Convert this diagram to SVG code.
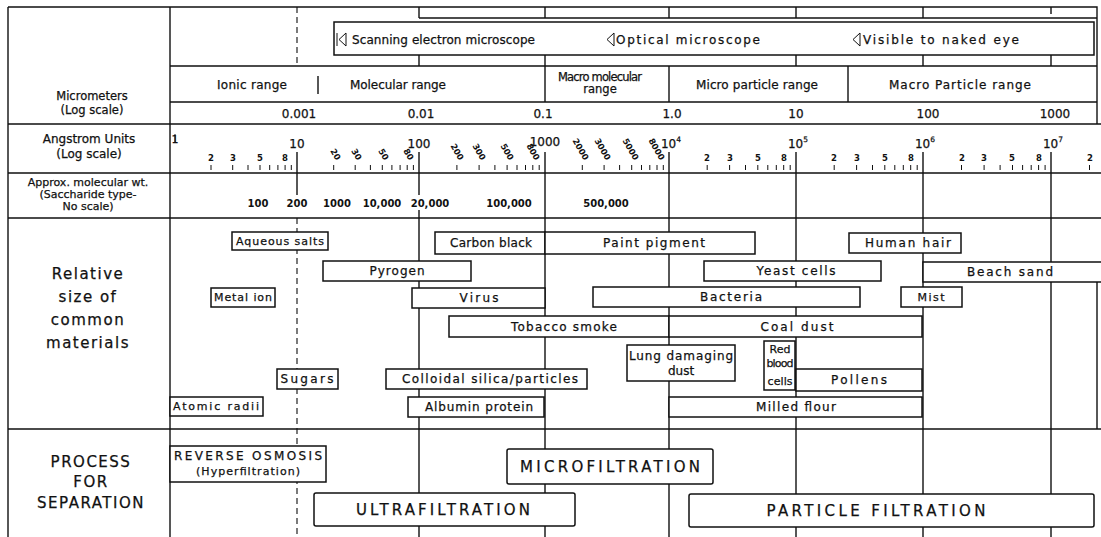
<svg xmlns="http://www.w3.org/2000/svg" width="1101" height="537" viewBox="0 0 1101 537">
<style>
text{font-family:"DejaVu Sans","Liberation Sans",sans-serif;fill:#111;stroke:#111;stroke-width:0.25}
.ln{stroke:#111;stroke-width:1.4;fill:none}
.thin{stroke:#111;stroke-width:1;fill:none}
.dash{stroke:#222;stroke-width:1.2;fill:none;stroke-dasharray:6 4}
.box{fill:#fff;stroke:#111;stroke-width:1.5}
.m{font-size:12px;text-anchor:middle}
.s{font-size:11px;text-anchor:middle}
.h{font-size:11.5px;text-anchor:middle}
.sub{font-size:8.5px;font-weight:bold;text-anchor:middle;stroke-width:0}
.rot{font-size:8.5px;font-weight:bold;text-anchor:end;stroke-width:0}
.big{font-size:15px;text-anchor:middle;letter-spacing:1.5px}
.pr{font-size:15px;text-anchor:middle}
.mw{font-size:10px;text-anchor:middle;font-weight:bold;stroke-width:0}
</style>
<rect x="0" y="0" width="1101" height="537" fill="#fff"/>

<g id="grid">
  <path class="dash" d="M297 7V66M297 218V537"/>
  <path class="ln" d="M297 152V195M419 152V195"/>
  <path class="ln" d="M419 7V18M545 7V18M669 7V18M796 7V18M923 7V18M1051 7V14"/>
  <path class="ln" d="M419 55V66M545 55V66M796 55V66M923 55V66M1051 55V66"/>
  <path class="ln" d="M545 66V102M669 66V102M848 66V102M318 76V94"/>
  <path class="ln" d="M545 152V537M669 152V537M796 152V537M923 152V537M1051 152V537"/>
  <path class="ln" d="M419 210V537M1097 262V429"/>
</g>

<g id="frame">
  <path class="ln" d="M8 7H1097V124M8 7V537M170 7V537"/>
  <path class="ln" d="M419 18H1097"/>
  <path class="ln" d="M170 66H1097M170 102H1097"/>
  <path class="ln" d="M8 124H1101M8 173H1101M8 218H1101M8 429H1101"/>
</g>

<g id="microscope">
  <rect class="box" x="334" y="22" width="760" height="33"/>
  <path class="thin" d="M337 33V46M346 33L339 39.5L346 46Z"/>
  <text x="352" y="44" font-size="12" textLength="183">Scanning electron microscope</text>
  <path class="thin" d="M614 33L607 39.5L614 46Z"/>
  <text x="616" y="44" font-size="12" textLength="144">Optical microscope</text>
  <path class="thin" d="M860 33L853 39.5L860 46Z"/>
  <text x="863" y="44" font-size="12" textLength="156">Visible to naked eye</text>
</g>

<g id="ranges">
  <text class="m" x="252" y="89" textLength="70">Ionic range</text>
  <text class="m" x="398" y="89" textLength="96">Molecular range</text>
  <text class="h" x="600" y="81" textLength="84">Macro molecular</text>
  <text class="h" x="600" y="93">range</text>
  <text class="m" x="757" y="89" textLength="122">Micro particle range</text>
  <text class="m" x="960" y="89" textLength="142">Macro Particle range</text>
</g>

<g id="micrometer-scale">
  <text class="m" x="299" y="118">0.001</text>
  <text class="m" x="421" y="118">0.01</text>
  <text class="m" x="543" y="118">0.1</text>
  <text class="m" x="672" y="118">1.0</text>
  <text class="m" x="796" y="118">10</text>
  <text class="m" x="928" y="118">100</text>
  <text class="m" x="1055" y="118">1000</text>
</g>

<g id="angstrom-scale">
  <text class="s" x="175" y="143" font-size="9">1</text>
  <text class="m" x="297" y="148">10</text>
  <text class="m" x="419" y="148">100</text>
  <text class="m" x="545" y="146">1000</text>
  <text class="m" x="671" y="148">10<tspan dy="-6" font-size="7.5">4</tspan></text>
  <text class="m" x="798" y="148">10<tspan dy="-6" font-size="7.5">5</tspan></text>
  <text class="m" x="925" y="148">10<tspan dy="-6" font-size="7.5">6</tspan></text>
  <text class="m" x="1053" y="148">10<tspan dy="-6" font-size="7.5">7</tspan></text>
  <path class="thin" d="M211 165V170M232.7 165V170M248 165V170M260 165V170M269.7 165V170M277.9 165V170M285.1 165V170M291.3 165V170
  M333.7 165V170M355.2 165V170M370.4 165V170M382.3 165V170M391.9 165V170M400.1 165V170M407.2 165V170M413.4 165V170
  M456.9 165V170M479.1 165V170M494.9 165V170M507.1 165V170M517 165V170M525.5 165V170M532.8 165V170M539.2 165V170
  M582.3 165V170M604.1 165V170M619.6 165V170M631.7 165V170M641.5 165V170M649.8 165V170M657 165V170M663.3 165V170
  M707.2 165V170M729.6 165V170M745.5 165V170M757.8 165V170M767.8 165V170M776.3 165V170M783.7 165V170M790.2 165V170
  M834.2 165V170M856.6 165V170M872.5 165V170M884.8 165V170M894.8 165V170M903.3 165V170M910.7 165V170M917.2 165V170
  M961.5 165V170M984.1 165V170M1000.1 165V170M1012.5 165V170M1022.6 165V170M1031.2 165V170M1038.6 165V170M1045.1 165V170
  M1089.5 165V170M175 134V142"/>
  <text class="sub" x="211" y="161">2</text><text class="sub" x="233" y="161">3</text><text class="sub" x="260" y="161">5</text><text class="sub" x="285" y="161">8</text>
  <text class="sub" x="707" y="161">2</text><text class="sub" x="730" y="161">3</text><text class="sub" x="758" y="161">5</text><text class="sub" x="784" y="161">8</text>
  <text class="sub" x="834" y="161">2</text><text class="sub" x="857" y="161">3</text><text class="sub" x="885" y="161">5</text><text class="sub" x="911" y="161">8</text>
  <text class="sub" x="962" y="161">2</text><text class="sub" x="984" y="161">3</text><text class="sub" x="1012" y="161">5</text><text class="sub" x="1039" y="161">8</text>
  <text class="sub" x="1090" y="161">2</text>
  <text class="rot" transform="translate(336,161) rotate(60)">20</text>
  <text class="rot" transform="translate(357,161) rotate(60)">30</text>
  <text class="rot" transform="translate(384,161) rotate(60)">50</text>
  <text class="rot" transform="translate(409,161) rotate(60)">80</text>
  <text class="rot" transform="translate(459,161) rotate(60)">200</text>
  <text class="rot" transform="translate(481,161) rotate(60)">300</text>
  <text class="rot" transform="translate(509,161) rotate(60)">500</text>
  <text class="rot" transform="translate(535,161) rotate(60)">800</text>
  <text class="rot" transform="translate(584,161) rotate(60)">2000</text>
  <text class="rot" transform="translate(606,161) rotate(60)">3000</text>
  <text class="rot" transform="translate(634,161) rotate(60)">5000</text>
  <text class="rot" transform="translate(660,161) rotate(60)">8000</text>
</g>

<g id="molwt">
  <text class="mw" x="258" y="207">100</text>
  <text class="mw" x="297" y="207">200</text>
  <text class="mw" x="337" y="207">1000</text>
  <text class="mw" x="382" y="207">10,000</text>
  <text class="mw" x="430" y="207">20,000</text>
  <text class="mw" x="509" y="207">100,000</text>
  <text class="mw" x="606" y="207">500,000</text>
</g>

<g id="row-labels">
  <text class="h" x="92" y="100">Micrometers</text>
  <text class="h" x="92" y="114">(Log scale)</text>
  <text class="m" x="89" y="143">Angstrom Units</text>
  <text class="m" x="89" y="158">(Log scale)</text>
  <text class="s" x="88" y="186">Approx. molecular wt.</text>
  <text class="s" x="88" y="198">(Saccharide type-</text>
  <text class="s" x="88" y="210">No scale)</text>
  <text class="big" x="88" y="279">Relative</text>
  <text class="big" x="88" y="302">size of</text>
  <text class="big" x="88" y="325">common</text>
  <text class="big" x="88" y="348">materials</text>
  <text class="big" x="91" y="467">PROCESS</text>
  <text class="big" x="91" y="487">FOR</text>
  <text class="big" x="91" y="508">SEPARATION</text>
</g>

<g id="materials">
  <g id="aqueous-salts"><rect class="box" x="232" y="232" width="96" height="18"/><text class="s" x="280" y="245" textLength="88">Aqueous salts</text></g>
  <g id="carbon-black"><rect class="box" x="435" y="232" width="110" height="22"/><text class="m" x="491" y="247" textLength="82">Carbon black</text></g>
  <g id="paint-pigment"><rect class="box" x="545" y="232" width="210" height="22"/><text class="m" x="654" y="247" textLength="102">Paint pigment</text></g>
  <g id="human-hair"><rect class="box" x="849" y="233" width="112" height="20"/><text class="m" x="908" y="247" textLength="86">Human hair</text></g>
  <g id="pyrogen"><rect class="box" x="323" y="261" width="148" height="20"/><text class="m" x="397" y="275" textLength="55">Pyrogen</text></g>
  <g id="yeast-cells"><rect class="box" x="704" y="261" width="177" height="20"/><text class="m" x="796" y="275" textLength="79">Yeast cells</text></g>
  <g id="beach-sand"><rect class="box" x="923" y="262" width="182" height="20"/><text class="m" x="1010" y="276" textLength="86">Beach sand</text></g>
  <g id="metal-ion"><rect class="box" x="211" y="288" width="64" height="19"/><text class="s" x="243" y="301" font-size="10" textLength="58">Metal ion</text></g>
  <g id="virus"><rect class="box" x="412" y="288" width="133" height="20"/><text class="m" x="479" y="302" textLength="39">Virus</text></g>
  <g id="bacteria"><rect class="box" x="593" y="287" width="267" height="20"/><text class="m" x="731" y="301" textLength="62">Bacteria</text></g>
  <g id="mist"><rect class="box" x="901" y="287" width="61" height="20"/><text class="s" x="931" y="301" textLength="27">Mist</text></g>
  <g id="tobacco-smoke"><rect class="box" x="449" y="316" width="220" height="21"/><text class="m" x="564" y="331" textLength="106">Tobacco smoke</text></g>
  <g id="coal-dust"><rect class="box" x="669" y="316" width="253" height="21"/><text class="m" x="797" y="331" textLength="73">Coal dust</text></g>
  <g id="lung-damaging-dust"><rect class="box" x="627" y="345" width="108" height="36"/><text class="m" x="681" y="360" textLength="104">Lung damaging</text><text class="m" x="681" y="375">dust</text></g>
  <g id="red-blood-cells"><rect class="box" x="764" y="341" width="31" height="49"/><text class="s" x="780" y="353">Red</text><text class="s" x="780" y="367" font-size="9.5" textLength="27">blood</text><text class="s" x="780" y="385" font-size="10" textLength="25">cells</text></g>
  <g id="pollens"><rect class="box" x="796" y="369" width="126" height="22"/><text class="m" x="859" y="384" textLength="56">Pollens</text></g>
  <g id="sugars"><rect class="box" x="277" y="369" width="61" height="20"/><text class="m" x="307" y="383" textLength="53">Sugars</text></g>
  <g id="colloidal-silica"><rect class="box" x="386" y="369" width="201" height="20"/><text class="m" x="490" y="383" textLength="176">Colloidal silica/particles</text></g>
  <g id="atomic-radii"><rect class="box" x="170" y="397" width="93" height="19"/><text class="s" x="216" y="410" textLength="86">Atomic radii</text></g>
  <g id="albumin-protein"><rect class="box" x="408" y="397" width="136" height="20"/><text class="m" x="479" y="411" textLength="108">Albumin protein</text></g>
  <g id="milled-flour"><rect class="box" x="669" y="397" width="253" height="20"/><text class="m" x="796" y="411" textLength="80">Milled flour</text></g>
</g>

<g id="processes">
  <g id="reverse-osmosis"><rect class="box" x="170" y="446" width="156" height="36"/><text class="m" x="248" y="460" font-size="13" textLength="148">REVERSE OSMOSIS</text><text class="s" x="248" y="475" textLength="104">(Hyperfiltration)</text></g>
  <g id="microfiltration"><rect class="box" x="507" y="449" width="206" height="35" rx="2"/><text class="pr" x="610" y="472" font-size="16" textLength="180">MICROFILTRATION</text></g>
  <g id="ultrafiltration"><rect class="box" x="314" y="493" width="261" height="33" rx="2"/><text class="pr" x="443" y="515" textLength="174">ULTRAFILTRATION</text></g>
  <g id="particle-filtration"><rect class="box" x="689" y="494" width="405" height="33" rx="2"/><text class="pr" x="876" y="516" textLength="219">PARTICLE FILTRATION</text></g>
</g>
</svg>
